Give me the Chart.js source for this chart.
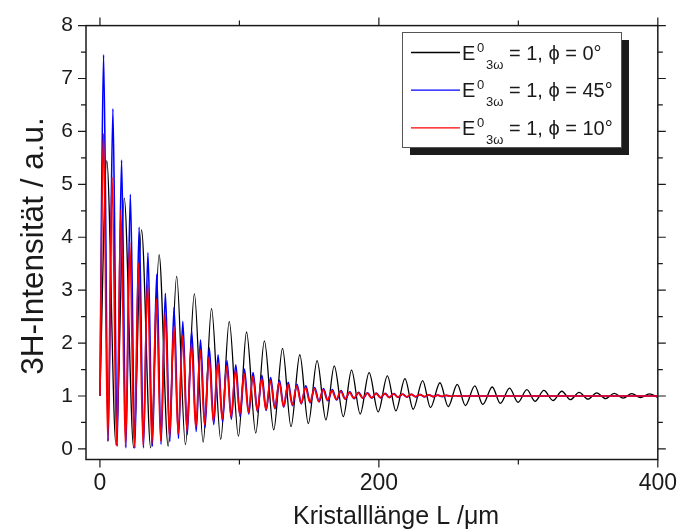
<!DOCTYPE html>
<html>
<head>
<meta charset="utf-8">
<script src="https://cdn.jsdelivr.net/npm/chart.js@4/dist/chart.umd.min.js"></script>
<style>
  html, body { margin: 0; background: #fff; }
</style>
</head>
<body>
<canvas id="chart" width="687" height="530"></canvas>
<script>
// Achsen
const xTickValues = [0, 100, 200, 300, 400];
const xTickLabels = [0, 200, 400];
const yTickLabels = [0, 1, 2, 3, 4, 5, 6, 7, 8];
const xTitle = 'Kristalllänge L /μm';
const yTitle = '3H-Intensität / a.u.';

const blackL = [0, 4.9, 11.5, 17.4, 24.2, 29.8, 36.4, 42.4, 48.9, 55.0, 61.3, 67.7, 74.0, 80.0, 86.6, 92.7,
  99.3, 105.1, 111.7, 117.9, 124.6, 130.9, 137.0, 143.3, 149.4, 155.7, 162.0, 168.0, 174.5, 180.4, 186.6,
  193.0, 199.5, 206.1, 212.2, 218.7, 224.6, 231.4, 237.0, 243.8, 249.7, 256.2, 262.0, 268.8, 274.5, 281.3,
  287.1, 293.7, 299.8, 306.1, 312.0, 318.3, 324.9, 331.2, 337.3, 343.6, 349.9, 356.2, 362.5, 368.8, 375.2,
  381.3, 387.6, 393.9, 400];
const blackI = [1.0, 5.45, 0.08, 4.74, 0.02, 4.14, 0.02, 3.67, 0.05, 3.26, 0.08, 2.93, 0.13, 2.65, 0.18, 2.41,
  0.24, 2.21, 0.30, 2.04, 0.36, 1.90, 0.42, 1.78, 0.48, 1.67, 0.55, 1.57, 0.61, 1.49, 0.66,
  1.44, 0.70, 1.38, 0.72, 1.33, 0.75, 1.29, 0.78, 1.25, 0.80, 1.22, 0.82, 1.19, 0.84, 1.17,
  0.86, 1.15, 0.88, 1.12, 0.90, 1.105, 0.915, 1.09, 0.93, 1.07, 0.94, 1.06, 0.95, 1.05, 0.96,
  1.045, 0.97, 1.04, 0.975];

const blueL = [0, 2.6, 5.9, 9.3, 12.3, 15.5, 18.6, 21.8, 25.0, 28.1, 31.2, 34.4, 37.6, 40.7, 43.8, 46.9,
  50.1, 53.1, 56.3, 59.4, 62.6, 65.8, 69.0, 72.1, 75.3, 78.4, 81.6, 84.7, 87.9, 91.1, 94.2, 97.4,
  100.5, 103.6, 106.7, 109.8, 113.0, 116.1, 119.2, 122.4, 125.5, 128.7, 131.8, 135.0, 138.1, 141.3,
  144.4, 147.6, 150.8, 154.0, 157.1, 160.3, 163.4, 166.6, 169.7, 172.9, 176.0, 179.2, 182.3, 185.5,
  188.7, 191.9, 195.0, 198.2, 201.3, 204.5, 207.6, 210.8, 213.9, 217.1, 220.2, 223.4, 226.5, 229.7,
  232.8, 236.0, 239.1, 242.3, 245.4, 248.6, 251.7, 254.9, 258.0, 400];
const blueI = [1.0, 7.45, 0.15, 6.43, 0.05, 5.46, 0.02, 4.81, 0.01, 4.19, 0.02, 3.71, 0.05, 3.30, 0.09, 2.94,
  0.14, 2.67, 0.20, 2.41, 0.27, 2.23, 0.33, 2.06, 0.40, 1.91, 0.46, 1.78, 0.51, 1.67, 0.56, 1.59,
  0.61, 1.51, 0.66, 1.44, 0.70, 1.39, 0.73, 1.35, 0.76, 1.30, 0.79, 1.26, 0.82, 1.22,
  0.85, 1.19, 0.87, 1.16, 0.89, 1.14, 0.91, 1.12, 0.925, 1.10, 0.94, 1.08, 0.95, 1.07,
  0.955, 1.06, 0.96, 1.055, 0.965, 1.05, 0.97, 1.045, 0.975, 1.035, 0.98, 1.03, 0.985, 1.025,
  0.985, 1.02, 0.99, 1.015, 0.99, 1.01, 0.995, 1.005, 1.0, 1.0];

const redL = [0, 2.5, 5.6, 8.7, 12.0, 15.0, 18.3, 21.4, 24.6, 27.7, 31.0, 34.1, 37.3, 40.4, 43.6, 46.7,
  49.9, 53.0, 56.1, 59.3, 62.4, 65.6, 68.7, 71.9, 75.0, 78.2, 81.3, 84.5, 87.7, 90.9, 94.0, 97.2,
  100.2, 103.3, 106.5, 109.6, 112.8, 115.9, 119.0, 122.2, 125.3, 128.5, 131.6, 134.8, 137.9, 141.1,
  144.2, 147.4, 150.5, 153.7, 156.8, 160.0, 163.1, 166.3, 169.4, 172.6, 175.7, 178.9, 182.0, 185.2,
  188.4, 191.6, 194.7, 197.9, 201.0, 204.2, 207.3, 210.5, 213.6, 216.8, 219.9, 223.1, 226.2, 229.4,
  232.5, 235.7, 238.8, 242.0, 245.1, 248.3, 251.4, 254.6, 257.7, 400];
const redI = [1.0, 5.96, 0.14, 5.13, 0.06, 4.52, 0.04, 3.91, 0.04, 3.51, 0.07, 3.11, 0.10, 2.83, 0.15, 2.56,
  0.22, 2.32, 0.28, 2.14, 0.34, 1.98, 0.40, 1.87, 0.46, 1.74, 0.52, 1.63, 0.56, 1.57, 0.61, 1.49,
  0.65, 1.43, 0.69, 1.37, 0.72, 1.33, 0.74, 1.29, 0.77, 1.26, 0.80, 1.22, 0.83, 1.19,
  0.86, 1.16, 0.88, 1.14, 0.90, 1.12, 0.92, 1.10, 0.935, 1.09, 0.945, 1.07, 0.955, 1.06,
  0.96, 1.055, 0.965, 1.05, 0.97, 1.045, 0.975, 1.04, 0.98, 1.035, 0.985, 1.03, 0.99, 1.025,
  0.99, 1.02, 0.99, 1.015, 0.995, 1.01, 0.995, 1.005, 1.0, 1.0];

const seriesColors = ['#000000', '#0000ff', '#ff0000'];
const seriesWidths = [1.3, 1.7, 1.7];
const legendPhi = ['0°', '45°', '10°'];

const fontFamily = '"Liberation Sans", Arial, sans-serif';

function toPoints(xs, ys) {
  return xs.map(function(x, i) {
    return { x: x, y: ys[i] };
  });
}

// Rahmen mit Ticks auf allen vier Seiten (wie in Origin) + Achsentitel
const framePlugin = {
  id: 'frame',
  afterDatasetsDraw(chart) {
    const ctx = chart.ctx;
    const a = chart.chartArea;
    const xs = chart.scales.x;
    const ys = chart.scales.y;
    ctx.save();
    ctx.strokeStyle = '#1a1a1a';
    ctx.lineWidth = 1.5;
    ctx.strokeRect(a.left, a.top, a.right - a.left, a.bottom - a.top);
    ctx.lineWidth = 1.2;
    ctx.beginPath();
    xTickValues.forEach(function(v) {
      const px = xs.getPixelForValue(v);
      const len = xTickLabels.includes(v) ? 8 : 5;
      ctx.moveTo(px, a.bottom);
      ctx.lineTo(px, a.bottom + len);
      ctx.moveTo(px, a.top);
      ctx.lineTo(px, a.top - len);
    });
    for (let v = 0; v <= 8; v += 0.5) {
      const py = ys.getPixelForValue(v);
      const len = v % 1 === 0 ? 8 : 5;
      ctx.moveTo(a.left, py);
      ctx.lineTo(a.left - len, py);
      ctx.moveTo(a.right, py);
      ctx.lineTo(a.right + len, py);
    }
    ctx.stroke();

    // Achsentitel
    ctx.fillStyle = '#1a1a1a';
    ctx.textBaseline = 'alphabetic';
    ctx.textAlign = 'left';
    ctx.font = '25px ' + fontFamily;
    ctx.fillText(xTitle, 293, 524);
    ctx.translate(43, 246);
    ctx.rotate(-Math.PI / 2);
    ctx.textAlign = 'center';
    ctx.font = '31.5px ' + fontFamily;
    ctx.fillText(yTitle, 0, 0);
    ctx.restore();
  }
};

// Legende mit Schatten, Hoch- und Tiefstellung
const legendPlugin = {
  id: 'legendBox',
  afterDraw(chart) {
    const ctx = chart.ctx;
    const bx = 402, by = 32, bw = 219, bh = 115, sh = 8;
    ctx.save();
    ctx.fillStyle = '#1c1c1c';
    ctx.fillRect(bx + sh, by + sh, bw, bh);
    ctx.fillStyle = '#ffffff';
    ctx.fillRect(bx, by, bw, bh);
    ctx.strokeStyle = '#555555';
    ctx.lineWidth = 1;
    ctx.strokeRect(bx + 0.5, by + 0.5, bw, bh);
    ctx.textBaseline = 'alphabetic';
    legendPhi.forEach(function(phi, i) {
      const yc = 52.5 + i * 37.7;
      ctx.strokeStyle = seriesColors[i];
      ctx.lineWidth = 1.3;
      ctx.beginPath();
      ctx.moveTo(411, yc);
      ctx.lineTo(460, yc);
      ctx.stroke();
      ctx.fillStyle = '#1a1a1a';
      ctx.font = '20px ' + fontFamily;
      ctx.fillText('E', 462, yc + 7);
      ctx.font = '13px ' + fontFamily;
      ctx.fillText('0', 477, yc - 1);
      ctx.fillText('3ω', 486, yc + 16);
      ctx.font = '20px ' + fontFamily;
      ctx.fillText('= 1, ϕ = ' + phi, 509, yc + 7);
    });
    ctx.restore();
  }
};

new Chart(document.getElementById('chart'), {
  type: 'line',
  data: {
    datasets: [
      { label: 'ϕ = 0°', data: toPoints(blackL, blackI), borderColor: seriesColors[0], borderWidth: seriesWidths[0], order: 2 },
      { label: 'ϕ = 45°', data: toPoints(blueL, blueI), borderColor: seriesColors[1], borderWidth: seriesWidths[1], order: 1 },
      { label: 'ϕ = 10°', data: toPoints(redL, redI), borderColor: seriesColors[2], borderWidth: seriesWidths[2], order: 0 }
    ]
  },
  options: {
    responsive: false,
    animation: false,
    devicePixelRatio: 1,
    layout: { padding: { top: 17, right: 18, left: 0, bottom: 0 } },
    elements: {
      point: { radius: 0 },
      line: { cubicInterpolationMode: 'monotone', fill: false }
    },
    plugins: {
      legend: { display: false },
      tooltip: { enabled: false }
    },
    scales: {
      x: {
        type: 'linear',
        min: -10,
        max: 400,
        afterBuildTicks: function(s) {
          s.ticks = xTickValues.map(function(v) { return { value: v }; });
        },
        afterFit: function(s) { s.height = 70.5; },
        grid: { display: false, drawTicks: false },
        border: { display: false },
        ticks: {
          autoSkip: false,
          maxRotation: 0,
          padding: 10,
          color: '#1a1a1a',
          font: { size: 23, family: fontFamily },
          callback: function(v) { return xTickLabels.includes(v) ? String(v) : ''; }
        }
      },
      y: {
        type: 'linear',
        min: -0.2,
        max: 8,
        afterBuildTicks: function(s) {
          s.ticks = yTickLabels.map(function(v) { return { value: v }; });
        },
        afterFit: function(s) { s.width = 86; },
        grid: { display: false, drawTicks: false },
        border: { display: false },
        ticks: {
          padding: 13,
          color: '#1a1a1a',
          font: { size: 21, family: fontFamily }
        }
      }
    }
  },
  plugins: [framePlugin, legendPlugin]
});
</script>
</body>
</html>
